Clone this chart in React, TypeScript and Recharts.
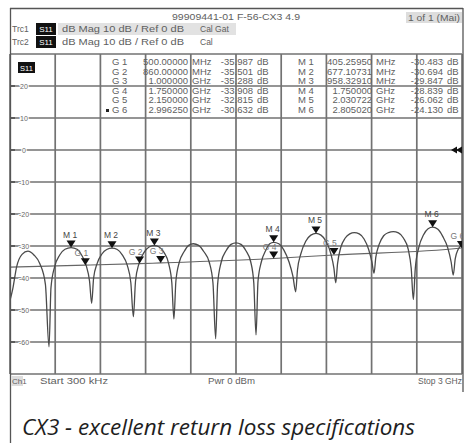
import React from "react";
import { ComposedChart, Line, XAxis, YAxis, CartesianGrid, ReferenceDot } from "recharts";

// S11 trace (GHz, dB)
const traceFreq = [
  0.0003, 0.018, 0.044, 0.08, 0.119, 0.159, 0.199, 0.235, 0.259,
  0.272, 0.296, 0.33, 0.365, 0.405, 0.445, 0.475, 0.505, 0.528, 0.542,
  0.555, 0.578, 0.61, 0.642, 0.677, 0.712, 0.745, 0.778, 0.802, 0.819,
  0.833, 0.856, 0.89, 0.923, 0.958, 0.99, 1.022, 1.053, 1.074, 1.088,
  1.101, 1.124, 1.155, 1.186, 1.217, 1.252, 1.287, 1.322, 1.347, 1.365,
  1.378, 1.402, 1.434, 1.467, 1.5, 1.533, 1.566, 1.598, 1.618, 1.633,
  1.646, 1.668, 1.698, 1.724, 1.75, 1.784, 1.818, 1.852, 1.878, 1.896,
  1.908, 1.93, 1.963, 1.997, 2.031, 2.064, 2.097, 2.13, 2.15, 2.162,
  2.174, 2.195, 2.225, 2.255, 2.285, 2.318, 2.35, 2.38, 2.402, 2.416,
  2.428, 2.45, 2.48, 2.512, 2.544, 2.578, 2.611, 2.643, 2.663, 2.677,
  2.69, 2.713, 2.745, 2.775, 2.805, 2.84, 2.872, 2.905, 2.928, 2.942,
  2.955, 2.975, 3.0,
];
const traceDb = [
  -47, -43.5, -36.5, -32.6, -31.6, -32.8, -35.6, -42, -61.5,
  -43, -36.5, -32.8, -31, -30.48, -31, -32.8, -36, -41, -47.9,
  -40, -35.5, -32.5, -31.1, -30.69, -31.1, -32.8, -36, -41.5, -52.1,
  -41, -35.5, -32, -30.3, -29.85, -30.3, -32, -35.5, -41.5, -52.8,
  -41, -35, -31.8, -29.8, -29.3, -29.8, -31.8, -35, -41.5, -59,
  -42, -35, -31.5, -29.5, -29.0, -29.5, -31.5, -35, -41.5, -57.8,
  -41, -35, -31.3, -29.3, -28.84, -29.3, -31.3, -35, -39.5, -44.3,
  -37.5, -32.5, -28.5, -26.6, -26.06, -26.6, -28.5, -32.5, -37, -41.5,
  -35.5, -30.5, -27.5, -26.2, -25.8, -26.2, -27.8, -31, -35, -38.5,
  -33.5, -29.5, -26.8, -25.8, -25.5, -25.9, -27.5, -31, -37, -46.7,
  -37, -30.5, -26.5, -24.6, -24.13, -24.8, -27, -30.5, -35, -39.1,
  -34, -31, -29.6,
];

// second trace (smooth line through the G markers)
const refFreq = [0.0003, 0.5, 0.86, 1.0, 1.75, 2.15, 2.996, 3.0];
const refDb = [-36.6, -35.987, -35.501, -35.288, -33.908, -32.815, -30.632, -30.6];

// markers
const mLabels = ["M 1", "M 2", "M 3", "M 4", "M 5", "M 6"];
const mFreq = [0.40526, 0.67711, 0.95833, 1.75, 2.030722, 2.80502];
const mDb = [-30.483, -30.694, -29.847, -28.839, -26.062, -24.13];
const mFreqText = ["405.25950", "677.10731", "958.32910", "1.750000", "2.030722", "2.805020"];
const mUnit = ["MHz", "MHz", "MHz", "GHz", "GHz", "GHz"];
const mDbText = ["-30.483", "-30.694", "-29.847", "-28.839", "-26.062", "-24.130"];

const gLabels = ["G 1", "G 2", "G 3", "G 4", "G 5", "G 6"];
const gFreq = [0.5, 0.86, 1.0, 1.75, 2.15, 2.99625];
const gDb = [-35.987, -35.501, -35.288, -33.908, -32.815, -30.632];
const gFreqText = ["500.00000", "860.00000", "1.000000", "1.750000", "2.150000", "2.996250"];
const gUnit = ["MHz", "MHz", "GHz", "GHz", "GHz", "GHz"];
const gDbText = ["-35.987", "-35.501", "-35.288", "-33.908", "-32.815", "-30.632"];

const xTicks = [0, 0.3, 0.6, 0.9, 1.2, 1.5, 1.8, 2.1, 2.4, 2.7, 3];
const yTicks = [30, 20, 10, 0, -10, -20, -30, -40, -50, -60, -70];
const yLabels = [20, 10, 0, -10, -20, -30, -40, -50, -60];

const traceData = traceFreq.map((f, i) => ({ f, v: traceDb[i] }));
const refData = refFreq.map((f, i) => ({ f, v: refDb[i] }));
const mData = mFreq.map((f, i) => ({ f, v: mDb[i], label: mLabels[i] }));
const gData = gFreq.map((f, i) => ({ f, v: gDb[i], label: gLabels[i] }));

const FONT = "'Liberation Sans', Arial, sans-serif";
const INK = "#606060";

const YLabel = (props: any) => {
  const { cx, cy, value } = props;
  return (
    <g>
      <line x1={cx} x2={cx + 5} y1={cy} y2={cy} stroke="#444" strokeWidth={1.4} />
      <text
        x={cx + 14}
        y={cy}
        dy={2.5}
        textAnchor="middle"
        fontSize={7}
        fontFamily={FONT}
        fill="#666"
        stroke="#fff"
        strokeWidth={2}
        paintOrder="stroke"
      >
        {value}
      </text>
    </g>
  );
};

const MarkerDot = (props: any) => {
  const { cx, cy, payload } = props;
  if (cx == null || cy == null) return null;
  return (
    <g key={payload.label}>
      <polygon points={`${cx - 4.5},${cy - 7} ${cx + 4.5},${cy - 7} ${cx},${cy}`} fill="#111" />
      <text x={cx - 1} y={cy - 10} textAnchor="middle" fontSize={8.5} fontFamily={FONT} fill="#444">
        {payload.label}
      </text>
    </g>
  );
};

const GDot = (props: any) => {
  const { cx, cy, payload } = props;
  if (cx == null || cy == null) return null;
  return (
    <g key={payload.label}>
      <polygon points={`${cx - 4.5},${cy - 7} ${cx + 4.5},${cy - 7} ${cx},${cy}`} fill="#111" />
      <text x={cx - 4} y={cy - 9} textAnchor="middle" fontSize={8.5} fontFamily={FONT} fill="#777">
        {payload.label}
      </text>
    </g>
  );
};

const RefArrow = (props: any) => {
  const { cx, cy } = props;
  return (
    <g>
      <polygon points={`${cx - 11},${cy} ${cx - 5},${cy - 3.5} ${cx - 5},${cy + 3.5}`} fill="#111" />
      <polygon points={`${cx - 6},${cy} ${cx},${cy - 3.5} ${cx},${cy + 3.5}`} fill="#111" />
    </g>
  );
};

const rowY = [65, 74.6, 84.2, 93.8, 103.4, 113];

export default function App() {
  return (
    <div style={{ position: "absolute", left: 0, top: 0, width: 466, height: 443, background: "#fff" }}>
      <ComposedChart
        width={466}
        height={443}
        margin={{ top: 54, right: 4, bottom: 69, left: 10 }}
        style={{ position: "absolute", left: 0, top: 0 }}
      >
        <CartesianGrid stroke="#727272" strokeWidth={1.7} />
        <XAxis type="number" dataKey="f" domain={[0, 3]} ticks={xTicks} hide allowDataOverflow />
        <YAxis type="number" dataKey="v" domain={[-70, 30]} ticks={yTicks} hide allowDataOverflow />
        {yLabels.map((v) => (
          <ReferenceDot
            key={v}
            x={0}
            y={v}
            r={0}
            ifOverflow="visible"
            shape={(p: any) => <YLabel {...p} value={v} />}
          />
        ))}
        <Line
          data={refData}
          dataKey="v"
          type="monotone"
          stroke="#666"
          strokeWidth={1.1}
          dot={false}
          activeDot={false}
          isAnimationActive={false}
        />
        <Line
          data={traceData}
          dataKey="v"
          type="monotone"
          stroke="#4a4a4a"
          strokeWidth={1.3}
          dot={false}
          activeDot={false}
          isAnimationActive={false}
        />
        <Line
          data={gData}
          dataKey="v"
          stroke="none"
          dot={<GDot />}
          activeDot={false}
          isAnimationActive={false}
        />
        <Line
          data={mData}
          dataKey="v"
          stroke="none"
          dot={<MarkerDot />}
          activeDot={false}
          isAnimationActive={false}
        />
        <ReferenceDot x={3} y={0} r={0} ifOverflow="visible" shape={<RefArrow />} />
      </ComposedChart>

      <svg
        width={466}
        height={443}
        style={{ position: "absolute", left: 0, top: 0, pointerEvents: "none" }}
        fontFamily={FONT}
      >
        {/* frame */}
        <line x1={10.5} x2={10.5} y1={8} y2={443} stroke="#555" strokeWidth={1.3} />
        <line x1={10} x2={463} y1={8.5} y2={8.5} stroke="#555" strokeWidth={1.3} />
        <line x1={463} x2={463} y1={8} y2={392} stroke="#555" strokeWidth={1.3} />

        {/* header */}
        <text x={236} y={20} textAnchor="middle" fontSize={8.5} fill={INK} textLength={128} lengthAdjust="spacingAndGlyphs">
          99909441-01 F-56-CX3 4.9
        </text>
        <rect x={406} y={12} width={56} height={11} fill="#ddd" />
        <text x={408} y={20.5} fontSize={8.5} fill={INK} textLength={52} lengthAdjust="spacingAndGlyphs">
          1 of 1 (Mai)
        </text>
        <rect x={58} y={23} width={178} height={12} fill="#e2e2e2" />
        <text x={12} y={32} fontSize={8.5} fill={INK}>Trc1</text>
        <rect x={36} y={23} width={20} height={12} fill="#111" />
        <text x={46} y={32} textAnchor="middle" fontSize={8} fill="#fff">S11</text>
        <text x={62} y={32} fontSize={8.5} fill={INK} textLength={122} lengthAdjust="spacingAndGlyphs">
          dB Mag  10 dB / Ref 0 dB
        </text>
        <text x={200} y={32} fontSize={8.5} fill={INK}>Cal Gat</text>
        <text x={12} y={45} fontSize={8.5} fill={INK}>Trc2</text>
        <rect x={36} y={36} width={20} height={12} fill="#111" />
        <text x={46} y={45} textAnchor="middle" fontSize={8} fill="#fff">S11</text>
        <text x={62} y={45} fontSize={8.5} fill={INK} textLength={122} lengthAdjust="spacingAndGlyphs">
          dB Mag  10 dB / Ref 0 dB
        </text>
        <text x={200} y={45} fontSize={8.5} fill={INK}>Cal</text>

        {/* channel badge in plot */}
        <rect x={18} y={62} width={17} height={11} fill="#111" />
        <text x={26.5} y={70.5} textAnchor="middle" fontSize={7.5} fill="#fff">S11</text>

        {/* G marker table */}
        {gLabels.map((l, i) => (
          <g key={l} fontSize={9.5} fill={INK}>
            {i === 5 && <rect x={106} y={rowY[i] - 4} width={3} height={3} fill="#222" />}
            <text x={112} y={rowY[i]}>{l}</text>
            <text x={188} y={rowY[i]} textAnchor="end">{gFreqText[i]}</text>
            <text x={192} y={rowY[i]}>{gUnit[i]}</text>
            <text x={253} y={rowY[i]} textAnchor="end">{gDbText[i]}</text>
            <text x={257} y={rowY[i]}>dB</text>
          </g>
        ))}

        {/* M marker table */}
        {mLabels.map((l, i) => (
          <g key={l} fontSize={9.5} fill={INK}>
            <text x={298} y={rowY[i]}>{l}</text>
            <text x={372} y={rowY[i]} textAnchor="end">{mFreqText[i]}</text>
            <text x={376} y={rowY[i]}>{mUnit[i]}</text>
            <text x={443} y={rowY[i]} textAnchor="end">{mDbText[i]}</text>
            <text x={447} y={rowY[i]}>dB</text>
          </g>
        ))}

        {/* footer */}
        <rect x={11} y={376} width={12} height={10} fill="#ddd" />
        <text x={12} y={384} fontSize={8} fill={INK}>Ch1</text>
        <text x={40} y={384} fontSize={8.5} fill={INK} textLength={68} lengthAdjust="spacingAndGlyphs">Start  300 kHz</text>
        <text x={208} y={384} fontSize={8.5} fill={INK} textLength={47} lengthAdjust="spacingAndGlyphs">Pwr  0 dBm</text>
        <text x={462} y={384} textAnchor="end" fontSize={8.5} fill={INK}>Stop  3 GHz</text>

        {/* caption */}
        <text
          x={22}
          y={435}
          fontSize={22}
          fontStyle="italic"
          fontFamily="'Open Sans', 'Noto Sans', sans-serif"
          fill="#1e1e1e"
          textLength={393}
          lengthAdjust="spacingAndGlyphs"
        >
          CX3 - excellent return loss specifications
        </text>
      </svg>
    </div>
  );
}
